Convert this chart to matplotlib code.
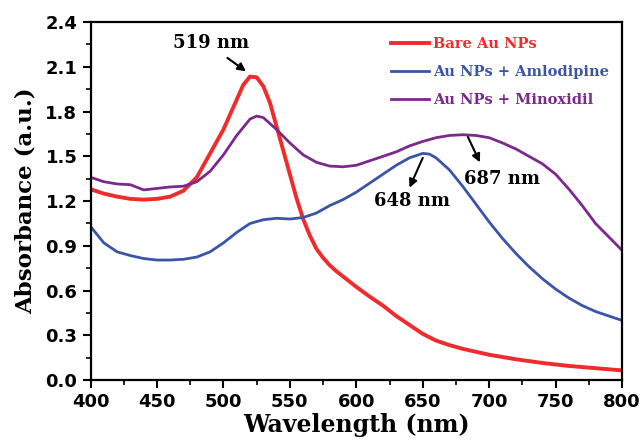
"""UV-vis spectra of bare and drug-loaded Au nanoparticles."""

import matplotlib
matplotlib.use("Agg")
import matplotlib.pyplot as plt
from matplotlib.ticker import MultipleLocator

wl_bare = [400, 410, 420, 430, 440, 450, 460, 470, 480, 490, 500, 510, 515, 520,
           525, 530, 535, 540, 545, 550, 555, 560, 565, 570, 575, 580, 585, 590, 600,
           610, 620, 630, 640, 650, 660, 670, 680, 690, 700, 720, 740, 760, 780, 800]
abs_bare = [1.28, 1.25, 1.23, 1.215, 1.21, 1.215, 1.23, 1.27, 1.36, 1.52, 1.68, 1.88,
            1.98, 2.035, 2.03, 1.97, 1.86, 1.70, 1.54, 1.38, 1.22, 1.08, 0.97, 0.88,
            0.82, 0.77, 0.73, 0.695, 0.625, 0.56, 0.50, 0.43, 0.37, 0.31, 0.265, 0.235,
            0.21, 0.19, 0.17, 0.14, 0.115, 0.095, 0.08, 0.065]

wl_aml = [400, 410, 420, 430, 440, 450, 460, 470, 480, 490, 500, 510, 520, 530, 540,
          550, 560, 570, 580, 590, 600, 610, 620, 630, 640, 650, 655, 660, 670, 680,
          690, 700, 710, 720, 730, 740, 750, 760, 770, 780, 790, 800]
abs_aml = [1.03, 0.92, 0.86, 0.835, 0.815, 0.805, 0.805, 0.81, 0.825, 0.86, 0.92, 0.99,
           1.05, 1.075, 1.085, 1.08, 1.09, 1.12, 1.17, 1.21, 1.26, 1.32, 1.38, 1.44,
           1.49, 1.52, 1.515, 1.49, 1.41, 1.30, 1.18, 1.06, 0.95, 0.85, 0.76, 0.68,
           0.61, 0.55, 0.50, 0.46, 0.43, 0.40]

wl_min = [400, 410, 420, 430, 440, 450, 460, 470, 480, 490, 500, 510, 520, 525, 530,
          540, 550, 560, 570, 580, 590, 600, 610, 620, 630, 640, 650, 660, 670, 680,
          690, 700, 710, 720, 730, 740, 750, 760, 770, 780, 790, 800]
abs_min = [1.36, 1.33, 1.315, 1.31, 1.275, 1.285, 1.295, 1.30, 1.33, 1.40, 1.51, 1.64,
           1.75, 1.77, 1.76, 1.68, 1.59, 1.51, 1.46, 1.435, 1.43, 1.44, 1.47, 1.50,
           1.53, 1.57, 1.60, 1.625, 1.64, 1.645, 1.64, 1.625, 1.59, 1.55, 1.50, 1.45,
           1.38, 1.28, 1.17, 1.05, 0.96, 0.87]

labels = ["Bare Au NPs", "Au NPs + Amlodipine", "Au NPs + Minoxidil"]
colors = ["#ef2b2b", "#3a55a8", "#7b2a8c"]

# peak labels: text position, arrow tail, arrow head (data coords)
peak_text = ["519 nm", "648 nm", "687 nm"]
text_pos = [(491, 2.26), (642, 1.20), (710, 1.35)]
arrow_tail = [(503, 2.16), (650, 1.49), (684, 1.63)]
arrow_head = [(517, 2.07), (640, 1.29), (693, 1.46)]

serif = "DejaVu Serif"

fig = plt.figure(figsize=(6.42, 4.42), dpi=100)
ax = fig.add_axes([0.141, 0.14, 0.828, 0.81])

ax.plot(wl_bare, abs_bare, color=colors[0], lw=2.8, label=labels[0])
ax.plot(wl_aml, abs_aml, color=colors[1], lw=2.0, label=labels[1])
ax.plot(wl_min, abs_min, color=colors[2], lw=2.0, label=labels[2])

ax.set_xlim(400, 800)
ax.set_ylim(0, 2.4)
ax.xaxis.set_major_locator(MultipleLocator(50))
ax.xaxis.set_minor_locator(MultipleLocator(25))
ax.yaxis.set_major_locator(MultipleLocator(0.3))
ax.yaxis.set_minor_locator(MultipleLocator(0.15))
ax.yaxis.set_major_formatter(lambda v, p: f"{v:.1f}")
ax.tick_params(which="major", direction="out", length=6, width=1.5, labelsize=13)
ax.tick_params(which="minor", direction="out", length=3.5, width=1.2)
for lab in ax.get_xticklabels() + ax.get_yticklabels():
    lab.set_fontweight("bold")
for sp in ax.spines.values():
    sp.set_linewidth(1.6)

ax.set_xlabel("Wavelength (nm)", family=serif, fontweight="bold", fontsize=17, labelpad=1)
ax.set_ylabel("Absorbance (a.u.)", family=serif, fontweight="bold", fontsize=16.5, labelpad=6)

leg = ax.legend(loc="upper right", frameon=False, prop={"family": serif, "weight": "bold", "size": 10.5},
                handlelength=2.6, handletextpad=0.3, labelspacing=0.95,
                bbox_to_anchor=(1.0, 0.995))
for txt, c in zip(leg.get_texts(), colors):
    txt.set_color(c)

for label, tp, tail, head in zip(peak_text, text_pos, arrow_tail, arrow_head):
    ax.annotate("", xy=head, xytext=tail,
                arrowprops=dict(arrowstyle="-|>", color="black", lw=1.5,
                                mutation_scale=12, shrinkA=0, shrinkB=0))
    ax.text(tp[0], tp[1], label, ha="center", va="center", family=serif,
            fontweight="bold", fontsize=13)

fig.savefig("out.png", dpi=100)
